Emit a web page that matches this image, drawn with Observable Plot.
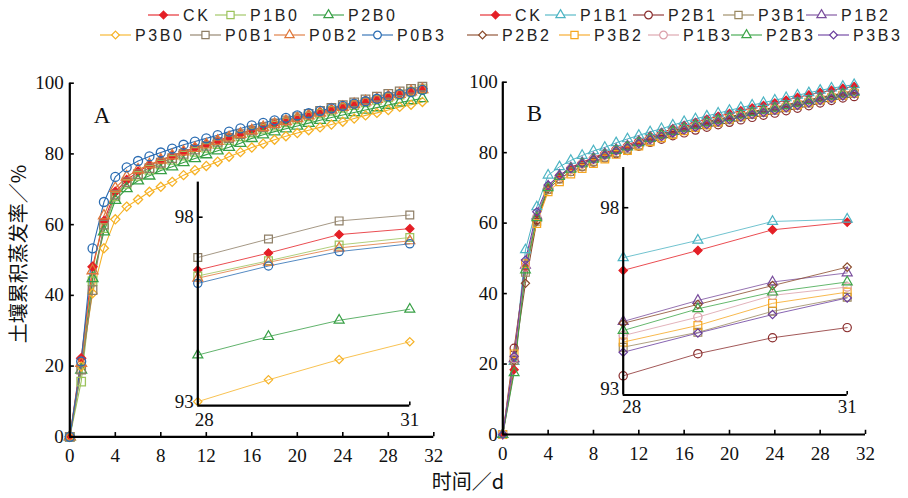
<!DOCTYPE html>
<html><head><meta charset="utf-8">
<script src="https://cdn.jsdelivr.net/npm/d3@7"></script>
<script src="https://cdn.jsdelivr.net/npm/@observablehq/plot@0.6"></script>
<style>
html,body{margin:0;padding:0;background:#fff;}
#root{position:relative;width:908px;height:498px;overflow:hidden;background:#fff;}
#root > svg{position:absolute;left:0;top:0;}
.ttl{position:absolute;font-family:"Noto Sans CJK SC";font-size:20px;color:#111;white-space:nowrap;text-align:center;height:26px;line-height:26px;width:220px;}
</style></head><body><div id="root"></div>
<script>
// ---------- data ----------
const days = [0,1,2,3,4,5,6,7,8,9,10,11,12,13,14,15,16,17,18,19,20,21,22,23,24,25,26,27,28,29,30,31];
const insetDays = [28,29,30,31];
const xTicksMain = [0,4,8,12,16,20,24,28,32];
const yTicksMain = [0,20,40,60,80,100];
const xTicksInset = [28,31];
const yTicksInset = [93,98];

// Panel A – main curves
const A_CK   = [0,22.2,48.1,61.0,69.3,72.6,75.0,76.8,78.2,79.5,80.7,81.8,82.8,83.8,84.8,85.8,86.8,87.7,88.6,89.4,90.2,91.0,91.8,92.6,93.4,94.2,95.0,95.7,96.4,97.1,97.8,98.5];
const A_P1B0 = [0,15.6,44.0,59.0,68.0,71.5,73.8,75.5,77.0,78.3,79.5,80.6,81.7,82.8,83.9,85.0,86.1,87.1,88.0,88.9,89.8,90.6,91.4,92.2,93.0,93.8,94.6,95.3,96.0,96.8,97.6,98.3];
const A_P2B0 = [0,18.9,44.8,58.0,66.9,70.2,72.4,73.8,75.3,76.4,77.6,78.7,79.8,80.9,81.9,83.0,84.4,85.4,86.3,87.1,87.9,88.7,89.5,90.3,91.0,91.7,92.4,93.1,93.8,94.5,95.1,95.7];
const A_P3B0 = [0,19.9,40.6,53.3,61.5,65.1,67.1,69.3,70.7,72.1,74.0,75.4,76.6,77.8,79.2,80.5,81.8,82.9,84.0,85.0,85.9,86.7,87.5,88.3,89.1,90.0,90.9,91.6,92.4,93.3,93.9,94.7];
const A_P0B1 = [0,19.0,41.5,60.0,68.5,72.0,74.3,76.0,77.5,78.8,80.0,81.2,82.3,83.4,84.5,85.6,86.6,87.6,88.6,89.5,90.4,91.3,92.2,93.0,93.8,94.6,95.4,96.2,97.0,97.7,98.4,99.0];
const A_P0B2 = [0,20.8,47.0,62.5,70.3,73.5,75.5,77.0,78.3,79.5,80.6,81.6,82.6,83.6,84.6,85.6,86.6,87.5,88.4,89.2,90.0,90.8,91.6,92.4,93.2,94.0,94.8,95.5,96.2,96.9,97.6,98.2];
const A_P0B3 = [0,21.3,53.3,66.4,73.5,76.2,78.0,79.3,80.4,81.5,82.6,83.5,84.4,85.3,86.3,87.2,88.1,88.8,89.5,90.2,90.9,91.5,92.2,92.9,93.6,94.2,94.9,95.6,96.3,96.9,97.5,98.1];

// Panel A – inset (days 28–31)
const Ai_CK   = [96.57,97.03,97.53,97.69];
const Ai_P1B0 = [96.41,96.82,97.25,97.45];
const Ai_P2B0 = [94.27,94.77,95.21,95.51];
const Ai_P3B0 = [93.01,93.60,94.15,94.63];
const Ai_P0B1 = [96.91,97.41,97.90,98.06];
const Ai_P0B2 = [96.35,96.78,97.17,97.36];
const Ai_P0B3 = [96.21,96.68,97.07,97.28];

// Panel B – main curves
const B_CK   = [0,18.4,47.5,61.5,70.0,73.5,75.8,77.3,78.6,79.9,81.2,82.2,83.5,84.7,85.7,86.8,87.7,88.6,89.5,90.3,91.1,91.9,92.7,93.4,94.1,94.9,95.7,96.4,97.1,97.7,98.3,98.8];
const B_P1B1 = [0,20.7,52.4,64.6,73.6,76.0,77.8,79.2,80.5,81.5,82.8,83.9,84.9,85.9,86.8,87.8,88.8,89.6,90.4,91.2,92.0,92.8,93.5,94.2,94.9,95.6,96.3,97.0,97.7,98.3,98.8,99.3];
const B_P2B1 = [0,24.5,47.5,61.0,69.5,72.6,74.6,76.0,77.3,78.5,79.7,80.6,81.8,82.9,83.8,84.8,85.6,86.4,87.2,87.9,88.6,89.3,90.0,90.6,91.2,91.9,92.6,93.3,94.1,94.8,95.5,95.9];
const B_P3B1 = [0,21.0,46.0,60.5,69.5,72.5,74.6,76.1,77.5,78.7,80.0,81.0,82.2,83.3,84.3,85.3,86.3,87.1,87.9,88.6,89.3,90.1,90.8,91.4,92.0,92.7,93.4,94.1,94.9,95.5,96.2,96.8];
const B_P1B2 = [0,21.5,48.0,62.0,70.5,73.6,75.7,77.2,78.5,79.7,80.9,81.9,83.1,84.3,85.3,86.3,87.2,88.0,88.8,89.5,90.2,90.9,91.6,92.3,92.9,93.6,94.3,95.0,95.7,96.3,96.9,97.4];
const B_P2B2 = [0,21.0,42.9,60.5,69.8,73.4,75.6,77.1,78.4,79.6,80.8,81.8,83.0,84.2,85.2,86.2,87.1,87.9,88.7,89.4,90.1,90.9,91.6,92.2,92.8,93.5,94.2,94.9,95.6,96.2,96.9,97.6];
const B_P3B2 = [0,22.9,48.5,59.9,68.9,71.7,73.9,75.5,76.9,78.2,79.5,80.6,81.9,83.1,84.2,85.2,86.2,87.1,87.9,88.7,89.5,90.3,91.0,91.6,92.2,92.9,93.6,94.3,95.0,95.6,96.3,96.9];
const B_P1B3 = [0,21.5,47.5,61.8,70.2,73.3,75.3,76.8,78.1,79.3,80.5,81.5,82.7,83.8,84.8,85.8,86.7,87.5,88.3,89.0,89.7,90.5,91.2,91.8,92.4,93.1,93.8,94.5,95.2,95.8,96.5,97.0];
const B_P2B3 = [0,17.5,46.7,61.5,70.0,73.2,75.3,76.8,78.1,79.3,80.6,81.6,82.8,84.0,85.0,86.0,86.9,87.7,88.5,89.2,89.9,90.7,91.4,92.0,92.6,93.3,94.0,94.7,95.4,96.0,96.6,97.1];
const B_P3B3 = [0,22.2,49.5,63.2,70.8,73.6,75.5,76.9,78.1,79.3,80.5,81.4,82.6,83.7,84.6,85.6,86.4,87.2,88.0,88.7,89.4,90.1,90.8,91.4,92.0,92.7,93.4,94.1,94.8,95.4,96.1,96.7];

// Panel B – inset (days 28–31)
const Bi_CK   = [96.27,96.82,97.39,97.60];
const Bi_P1B1 = [96.62,97.10,97.62,97.68];
const Bi_P2B1 = [93.36,93.97,94.41,94.69];
const Bi_P3B1 = [94.15,94.56,95.14,95.53];
const Bi_P1B2 = [94.86,95.44,95.95,96.20];
const Bi_P2B2 = [94.81,95.33,95.85,96.36];
const Bi_P3B2 = [94.29,94.75,95.36,95.67];
const Bi_P1B3 = [94.47,94.98,95.58,95.81];
const Bi_P2B3 = [94.61,95.21,95.67,95.95];
const Bi_P3B3 = [94.01,94.54,95.05,95.51];

const seriesA = [
  {name:"CK",   main:A_CK,   inset:Ai_CK},
  {name:"P1B0", main:A_P1B0, inset:Ai_P1B0},
  {name:"P2B0", main:A_P2B0, inset:Ai_P2B0},
  {name:"P3B0", main:A_P3B0, inset:Ai_P3B0},
  {name:"P0B1", main:A_P0B1, inset:Ai_P0B1},
  {name:"P0B2", main:A_P0B2, inset:Ai_P0B2},
  {name:"P0B3", main:A_P0B3, inset:Ai_P0B3}
];
const seriesB = [
  {name:"CK",   main:B_CK,   inset:Bi_CK},
  {name:"P1B1", main:B_P1B1, inset:Bi_P1B1},
  {name:"P2B1", main:B_P2B1, inset:Bi_P2B1},
  {name:"P3B1", main:B_P3B1, inset:Bi_P3B1},
  {name:"P1B2", main:B_P1B2, inset:Bi_P1B2},
  {name:"P2B2", main:B_P2B2, inset:Bi_P2B2},
  {name:"P3B2", main:B_P3B2, inset:Bi_P3B2},
  {name:"P1B3", main:B_P1B3, inset:Bi_P1B3},
  {name:"P2B3", main:B_P2B3, inset:Bi_P2B3},
  {name:"P3B3", main:B_P3B3, inset:Bi_P3B3}
];

// ---------- styles ----------
const stylesA = {
  CK:   {color:"#e41f26", symbol:"diamond2", filled:true},
  P1B0: {color:"#9cc35c", symbol:"square2"},
  P2B0: {color:"#38a046", symbol:"triangle2"},
  P3B0: {color:"#f6b226", symbol:"diamond2"},
  P0B1: {color:"#8e7e66", symbol:"square2"},
  P0B2: {color:"#df773a", symbol:"triangle2"},
  P0B3: {color:"#2a6cb2", symbol:"circle"}
};
const stylesB = {
  CK:   {color:"#e41f26", symbol:"diamond2", filled:true},
  P1B1: {color:"#4cb4c3", symbol:"triangle2"},
  P2B1: {color:"#8a2d2d", symbol:"circle"},
  P3B1: {color:"#9a8860", symbol:"square2"},
  P1B2: {color:"#7a4e9d", symbol:"triangle2"},
  P2B2: {color:"#8a4a2a", symbol:"diamond2"},
  P3B2: {color:"#f6a721", symbol:"square2"},
  P1B3: {color:"#dba0aa", symbol:"circle"},
  P2B3: {color:"#3da649", symbol:"triangle2"},
  P3B3: {color:"#6a3d9e", symbol:"diamond2"}
};
const rBase = {circle:4.5, square2:5.4, triangle2:5.2, diamond2:4.1};
const SERIF = "Liberation Serif";
const W = 908, H = 498;
const root = document.getElementById("root");

function panel(cfg) {
  const marks = [];
  const xs = cfg.days;
  for (const s of cfg.series) {
    const st = cfg.styles[s.name];
    const vals = s[cfg.key];
    const rows = xs.map((d, i) => ({day: d, v: vals[i]}));
    marks.push(Plot.line(rows, {x: "day", y: "v", stroke: st.color, strokeWidth: cfg.lineWidth}));
  }
  for (const s of cfg.series) {
    const st = cfg.styles[s.name];
    const vals = s[cfg.key];
    const rows = xs.map((d, i) => ({day: d, v: vals[i]}));
    marks.push(Plot.dot(rows, {x: "day", y: "v", symbol: st.symbol, r: rBase[st.symbol] * cfg.rScale,
      stroke: st.color, fill: st.filled ? st.color : "none", strokeWidth: cfg.dotStroke}));
  }
  const [x0] = cfg.xDomain, [y0] = cfg.yDomain;
  // axis lines
  marks.push(Plot.ruleX([x0], {stroke: "#000", strokeWidth: 2.2}));
  marks.push(Plot.ruleY([y0], {stroke: "#000", strokeWidth: 2.2}));
  // inward ticks
  marks.push(Plot.ruleX(cfg.xTicks, {x: d => d, y1: y0, y2: y0 + cfg.xTickLen, stroke: "#000", strokeWidth: 1.6}));
  marks.push(Plot.ruleY(cfg.yTicks, {y: d => d, x1: x0, x2: x0 + cfg.yTickLen, stroke: "#000", strokeWidth: 1.6}));
  // tick labels
  marks.push(Plot.text(cfg.yLabels, {x: x0, y: d => d, text: d => String(d), textAnchor: "end", dx: cfg.yLabelDx,
    fontFamily: SERIF, fontSize: cfg.fontSize, fill: "#111"}));
  marks.push(Plot.text(cfg.xLabels, {x: d => d, y: y0, text: d => String(d), dy: cfg.xLabelDy, textAnchor: cfg.xAnchor || "middle",
    dx: cfg.xLabelDx || 0, fontFamily: SERIF, fontSize: cfg.fontSize, fill: "#111"}));
  if (cfg.xLabels2) marks.push(Plot.text(cfg.xLabels2, {x: d => d, y: y0, text: d => String(d), dy: cfg.xLabelDy,
    fontFamily: SERIF, fontSize: cfg.fontSize, fill: "#111"}));
  if (cfg.letter) marks.push(Plot.text([cfg.letter], {frameAnchor: "top-left", dx: cfg.letterDx, dy: cfg.letterDy, text: d => d,
    fontFamily: SERIF, fontSize: 23, fill: "#111"}));
  const svg = Plot.plot({
    width: W, height: H,
    marginLeft: cfg.m[0], marginRight: W - cfg.m[1], marginTop: cfg.m[2], marginBottom: H - cfg.m[3],
    x: {domain: cfg.xDomain, axis: null},
    y: {domain: cfg.yDomain, axis: null},
    style: {background: "transparent", overflow: "visible", maxWidth: "none"},
    marks
  });
  svg.style.position = "absolute"; svg.style.left = "0px"; svg.style.top = "0px";
  root.appendChild(svg);
}

// Panel A main
panel({series: seriesA, styles: stylesA, key: "main", days: days, xDomain: [0,32], yDomain: [0,100],
  m: [69.3, 433.3, 82.7, 436.3], lineWidth: 1.1, rScale: 1, dotStroke: 1.3,
  xTicks: xTicksMain, yTicks: yTicksMain, xTickLen: 1.2, yTickLen: 0.4,
  yLabels: yTicksMain, xLabels: xTicksMain, yLabelDx: -6, xLabelDy: 19, fontSize: 19,
  letter: "A", letterDx: 24, letterDy: 23});
// Panel A inset
panel({series: seriesA, styles: stylesA, key: "inset", days: insetDays, xDomain: [28,31], yDomain: [92.9,98.95],
  m: [197.3, 409.3, 181.6, 405.2], lineWidth: 0.8, rScale: 0.92, dotStroke: 1.2,
  xTicks: [31], yTicks: [98], xTickLen: 0.1, yTickLen: 0.075,
  yLabels: yTicksInset, xLabels: [28], xLabels2: [31], xAnchor: "start", xLabelDx: -3, yLabelDx: -4, xLabelDy: 14, fontSize: 19});
// Panel B main
panel({series: seriesB, styles: stylesB, key: "main", days: days, xDomain: [0,32], yDomain: [0,100],
  m: [502.3, 865, 81.7, 434], lineWidth: 1.0, rScale: 0.9, dotStroke: 1.2,
  xTicks: xTicksMain, yTicks: yTicksMain, xTickLen: 1.2, yTickLen: 0.4,
  yLabels: yTicksMain, xLabels: xTicksMain, yLabelDx: -5, xLabelDy: 19, fontSize: 19,
  letter: "B", letterDx: 24, letterDy: 22});
// Panel B inset
panel({series: seriesB, styles: stylesB, key: "inset", days: insetDays, xDomain: [28,31], yDomain: [92.83,99.11],
  m: [622.7, 846.7, 167, 394.5], lineWidth: 0.8, rScale: 0.92, dotStroke: 1.2,
  xTicks: [31], yTicks: [98], xTickLen: 0.1, yTickLen: 0.075,
  yLabels: yTicksInset, xLabels: [28], xLabels2: [31], xAnchor: "start", xLabelDx: -1, yLabelDx: -4, xLabelDy: 12, fontSize: 19});

// ---------- legends ----------
const legendA = [
  {name:"CK", x:148, y:15}, {name:"P1B0", x:215, y:15}, {name:"P2B0", x:313, y:15},
  {name:"P3B0", x:100, y:35}, {name:"P0B1", x:190, y:35}, {name:"P0B2", x:274, y:35}, {name:"P0B3", x:362, y:35}
];
const legendB = [
  {name:"CK", x:480, y:15}, {name:"P1B1", x:545, y:15}, {name:"P2B1", x:633, y:15}, {name:"P3B1", x:723, y:15}, {name:"P1B2", x:806, y:15},
  {name:"P2B2", x:467, y:35}, {name:"P3B2", x:559, y:35}, {name:"P1B3", x:648, y:35}, {name:"P2B3", x:731, y:35}, {name:"P3B3", x:818, y:35}
];
const symType = {circle: d3.symbolCircle, square2: d3.symbolSquare2, triangle2: d3.symbolTriangle2, diamond2: d3.symbolDiamond2};
const lg = d3.select(root).append("svg").attr("width", W).attr("height", 60)
  .style("position","absolute").style("left","0px").style("top","0px");
function drawLegend(items, styles) {
  for (const it of items) {
    const st = styles[it.name];
    const g = lg.append("g");
    g.append("line").attr("x1", it.x).attr("x2", it.x + 31).attr("y1", it.y).attr("y2", it.y)
      .attr("stroke", st.color).attr("stroke-width", 1.1);
    const r = rBase[st.symbol] * 0.85;
    g.append("path").attr("d", d3.symbol(symType[st.symbol], Math.PI * r * r)())
      .attr("transform", `translate(${it.x + 15.5},${it.y})`)
      .attr("fill", st.filled ? st.color : "#fff").attr("stroke", st.color).attr("stroke-width", 1.2);
    g.append("text").attr("x", it.x + 35).attr("y", it.y).attr("dy", "0.36em")
      .attr("font-family", "Liberation Sans").attr("font-size", 16).attr("letter-spacing", "2.6px")
      .attr("fill", "#222").text(it.name);
  }
}
drawLegend(legendA, stylesA);
drawLegend(legendB, stylesB);

// ---------- axis titles ----------
const yt = document.createElement("div");
yt.className = "ttl"; yt.textContent = "土壤累积蒸发率／%";
yt.style.left = (18 - 110) + "px"; yt.style.top = (254 - 13) + "px"; yt.style.transform = "rotate(-90deg)";
root.appendChild(yt);
const xt = document.createElement("div");
xt.className = "ttl"; xt.textContent = "时间／d";
xt.style.left = (468 - 110) + "px"; xt.style.top = (481 - 13) + "px";
root.appendChild(xt);
</script></body></html>
